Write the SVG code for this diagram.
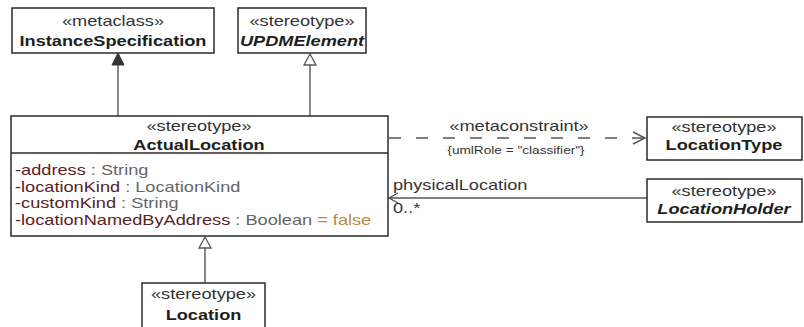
<svg xmlns="http://www.w3.org/2000/svg" width="804" height="327" viewBox="0 0 804 327">
<style>
text { font-family: "Liberation Sans", Arial, sans-serif; font-size: 14px; }
.c { text-anchor: middle; }
.st { fill: #333; }
.nm { fill: #1e1e1e; font-weight: bold; }
.it { font-style: italic; }
.box { fill: #fff; stroke: #2a2a2a; stroke-width: 1.5; }
.ln { fill: none; stroke: #555; stroke-width: 1.4; }
.an { fill: #5a2222; }
.ty { fill: #666; }
.df { fill: #b8894a; }
.lb { fill: #333; }
</style>
<rect width="804" height="327" fill="#fff"/>
<g id="connectors">
  <!-- InstanceSpecification extension -->
  <line class="ln" x1="118" y1="65" x2="118" y2="116"/>
  <polygon points="118,53 112,65 124,65" fill="#333" stroke="#333" stroke-width="1"/>
  <!-- UPDMElement generalization -->
  <line class="ln" x1="310" y1="65" x2="310" y2="116"/>
  <polygon points="310,54 304,65 316,65" fill="#fff" stroke="#555" stroke-width="1.3"/>
  <!-- Location generalization -->
  <line class="ln" x1="205" y1="248" x2="205" y2="283"/>
  <polygon points="205,237 199,248 211,248" fill="#fff" stroke="#555" stroke-width="1.3"/>
  <!-- metaconstraint dependency -->
  <line class="ln" x1="389" y1="138" x2="644" y2="138" stroke-dasharray="12 15" stroke-dashoffset="0"/>
  <polyline class="ln" points="633,132 645,138 633,144"/>
  <text class="lb c" transform="translate(519 131) scale(1.3 1)">«metaconstraint»</text>
  <text class="lb c" style="font-size:10.5px" transform="translate(516 154) scale(1.3 1)">{umlRole = "classifier"}</text>
  <!-- physicalLocation association -->
  <line class="ln" x1="389" y1="198" x2="647" y2="198"/>
  <polyline class="ln" points="398,193 389,198 398,203"/>
  <text class="lb" transform="translate(393 190) scale(1.3 1)">physicalLocation</text>
  <text class="lb" transform="translate(393 213) scale(1.3 1)">0..*</text>
</g>
<g id="InstanceSpecification">
  <rect class="box" x="12" y="8" width="202" height="45"/>
  <text class="st c" transform="translate(113 26) scale(1.3 1)">«metaclass»</text>
  <text class="nm c" transform="translate(113 46) scale(1.3 1)">InstanceSpecification</text>
</g>
<g id="UPDMElement">
  <rect class="box" x="238" y="8" width="128" height="45"/>
  <text class="st c" transform="translate(302 26) scale(1.3 1)">«stereotype»</text>
  <text class="nm it c" transform="translate(302 46) scale(1.3 1)">UPDMElement</text>
</g>
<g id="ActualLocation">
  <rect class="box" x="11" y="116" width="377" height="120"/>
  <line x1="11" y1="153" x2="388" y2="153" stroke="#2a2a2a" stroke-width="1.5"/>
  <text class="st c" transform="translate(199 131) scale(1.3 1)">«stereotype»</text>
  <text class="nm c" transform="translate(199 150) scale(1.3 1)">ActualLocation</text>
  <text transform="translate(15 175) scale(1.3 1)"><tspan class="an">-address</tspan><tspan class="ty"> : String</tspan></text>
  <text transform="translate(15 191.5) scale(1.3 1)"><tspan class="an">-locationKind</tspan><tspan class="ty"> : LocationKind</tspan></text>
  <text transform="translate(15 208) scale(1.3 1)"><tspan class="an">-customKind</tspan><tspan class="ty"> : String</tspan></text>
  <text transform="translate(15 224.5) scale(1.3 1)"><tspan class="an">-locationNamedByAddress</tspan><tspan class="ty"> : Boolean </tspan><tspan class="df">= false</tspan></text>
</g>
<g id="LocationType">
  <rect class="box" x="647" y="117" width="155" height="43"/>
  <text class="st c" transform="translate(724 132) scale(1.3 1)">«stereotype»</text>
  <text class="nm c" transform="translate(724 150) scale(1.3 1)">LocationType</text>
</g>
<g id="LocationHolder">
  <rect class="box" x="647" y="179" width="155" height="43"/>
  <text class="st c" transform="translate(724 196) scale(1.3 1)">«stereotype»</text>
  <text class="nm it c" transform="translate(724 214) scale(1.3 1)">LocationHolder</text>
</g>
<g id="Location">
  <rect class="box" x="142" y="283" width="123" height="52"/>
  <text class="st c" transform="translate(203.5 299) scale(1.3 1)">«stereotype»</text>
  <text class="nm c" transform="translate(203.5 320) scale(1.3 1)">Location</text>
</g>
</svg>
